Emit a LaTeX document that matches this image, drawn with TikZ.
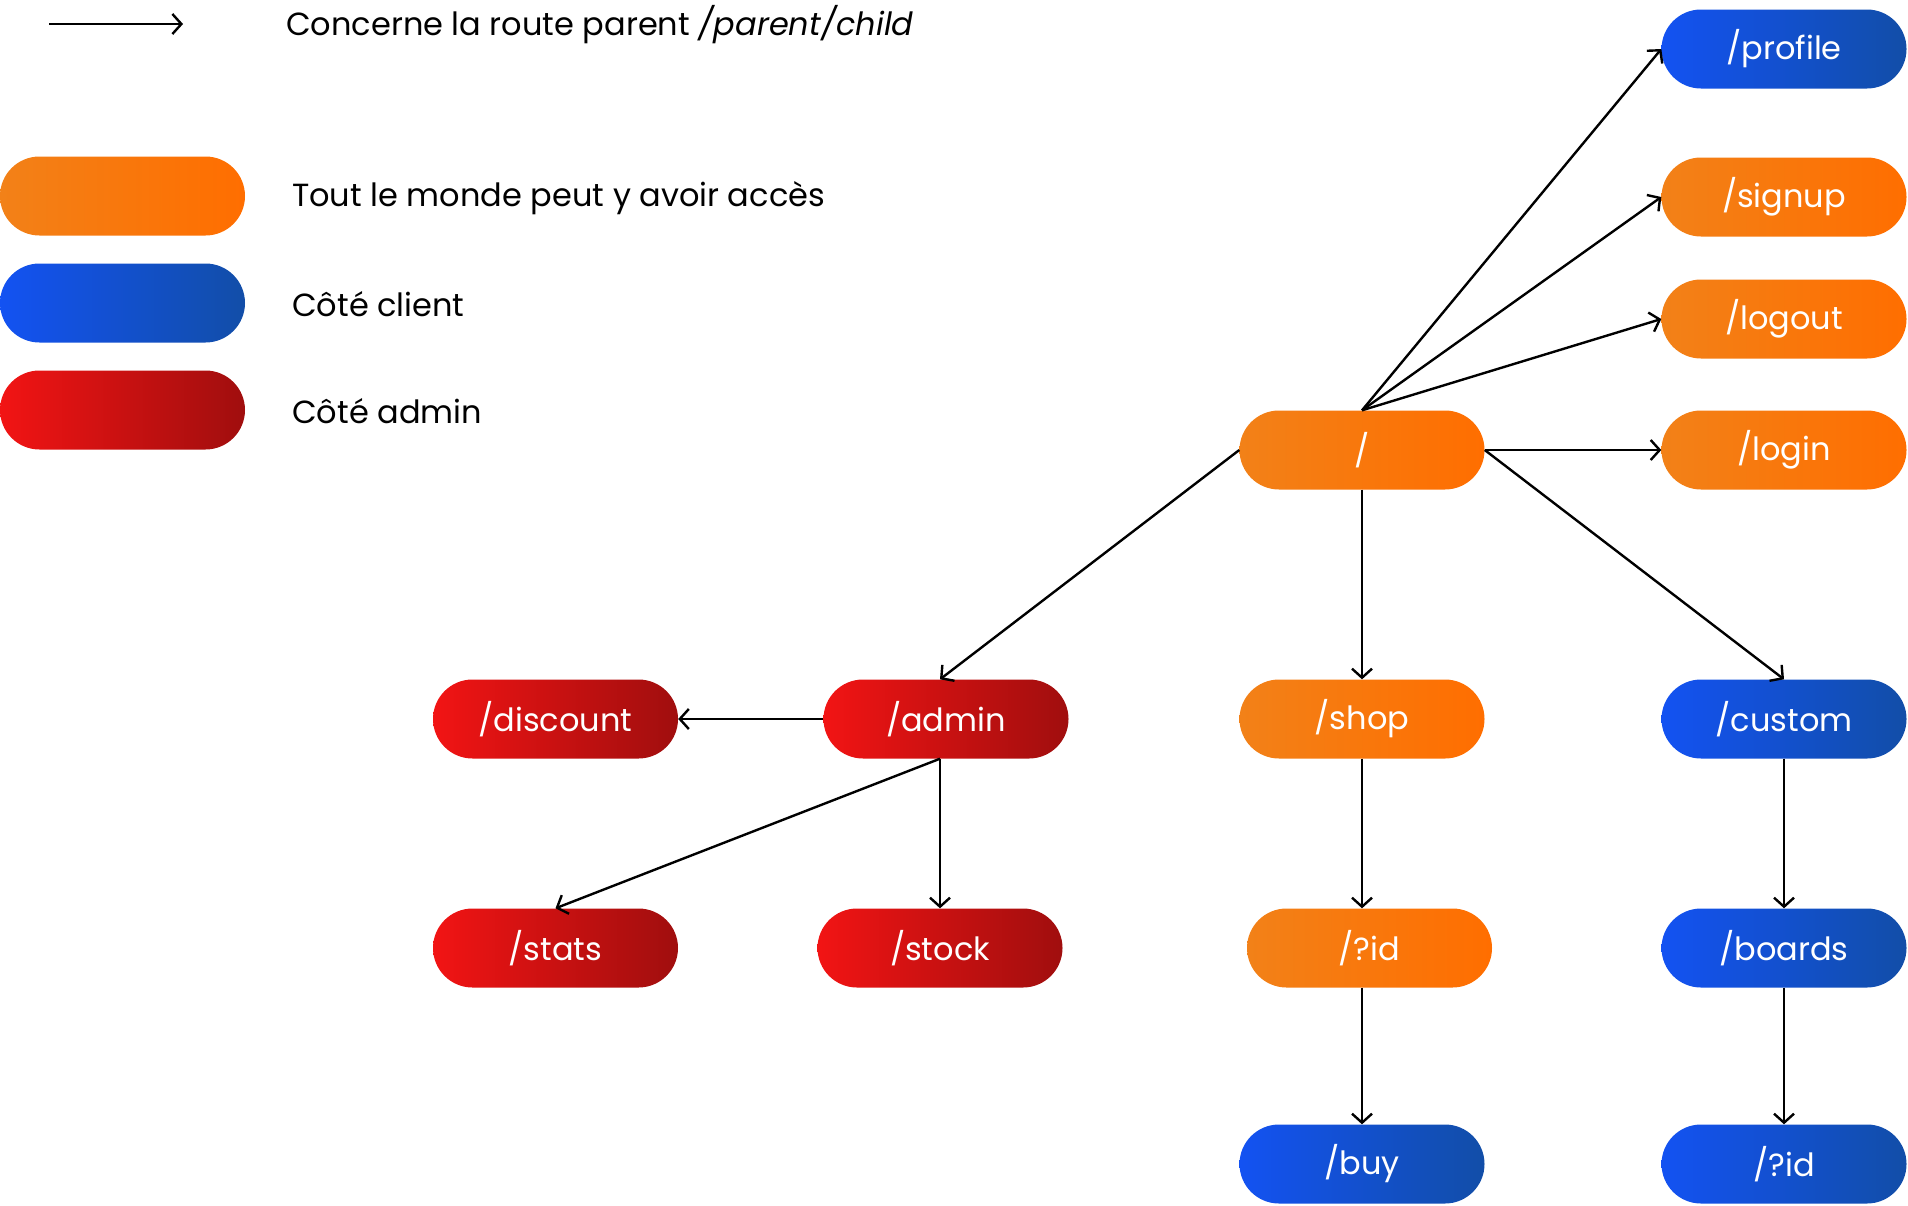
\documentclass[tikz,border=0pt]{standalone}
\usepackage{fontspec}
\setmainfont{Poppins}
\usetikzlibrary{shapes.misc,arrows.meta}
\definecolor{orL}{HTML}{F28118}
\definecolor{orR}{HTML}{FF6E00}
\definecolor{blL}{HTML}{1352F2}
\definecolor{blR}{HTML}{124EA8}
\definecolor{rdL}{HTML}{F21414}
\definecolor{rdR}{HTML}{A00E0E}
\begin{document}
\begin{tikzpicture}[x=1pt,y=-1pt,
  pill/.style={rounded rectangle, minimum width=245pt, minimum height=79pt, inner sep=0pt, text=white, font=\fontsize{32}{38}\selectfont},
  pillor/.style={pill, left color=orL, right color=orR},
  pillbl/.style={pill, left color=blL, right color=blR},
  pillrd/.style={pill, left color=rdL, right color=rdR},
  legtext/.style={anchor=west, inner sep=0pt, font=\fontsize{32}{38}\selectfont},
  link/.style={draw=black, line width=2.4pt, -{Straight Barb[length=9pt,width=20pt,line width=2.4pt]}}
]
\useasboundingbox (0,0) rectangle (1908,1205);

% legend
\coordinate (la) at (49,24);
\coordinate (lb) at (183,24);
\draw[link] (la) -- (lb);
\node[legtext] (lt0) at (286,25) {Concerne la route parent \textit{/parent/child}};
\node[pillor] (l1) at (122.5,196) {};
\node[pillbl] (l2) at (122.5,303) {};
\node[pillrd] (l3) at (122.5,410) {};
\node[legtext] (lt1) at (292,198) {Tout le monde peut y avoir accès};
\node[legtext] (lt2) at (292,304) {Côté client};
\node[legtext] (lt3) at (292,411) {Côté admin};

% nodes
\node[pillbl] (profile) at (1784,49) {/profile};
\node[pillor] (signup) at (1784,197) {/signup};
\node[pillor] (logout) at (1784,319) {/logout};
\node[pillor] (login) at (1784,450) {/login};
\node[pillor] (root) at (1362,450) {/};
\node[pillor] (shop) at (1362,719) {/shop};
\node[pillor] (pid) at (1369.5,948) {/?id};
\node[pillbl] (buy) at (1362,1164) {/buy};
\node[pillbl] (custom) at (1784,719) {/custom};
\node[pillbl] (boards) at (1784,948) {/boards};
\node[pillbl] (bid) at (1784,1164) {/?id};
\node[pillrd] (admin) at (946,719) {/admin};
\node[pillrd] (discount) at (555.5,719) {/discount};
\node[pillrd] (stats) at (555.5,948) {/stats};
\node[pillrd] (stock) at (940,948) {/stock};

% connectors
\draw[link] (root.north) -- (profile.west);
\draw[link] (root.north) -- (signup.west);
\draw[link] (root.north) -- (logout.west);
\draw[link] (root.east) -- (login.west);
\draw[link] (root.west) -- (stock.north |- admin.north);
\draw[link] (root.south) -- (shop.north);
\draw[link] (root.east) -- (custom.north);
\draw[link] (admin.west) -- (discount.east);
\draw[link] (stock.north |- admin.south) -- (stats.north);
\draw[link] (stock.north |- admin.south) -- (stock.north);
\draw[link] (shop.south) -- (shop.south |- pid.north);
\draw[link] (shop.south |- pid.south) -- (buy.north);
\draw[link] (custom.south) -- (boards.north);
\draw[link] (boards.south) -- (bid.north);
\end{tikzpicture}
\end{document}
